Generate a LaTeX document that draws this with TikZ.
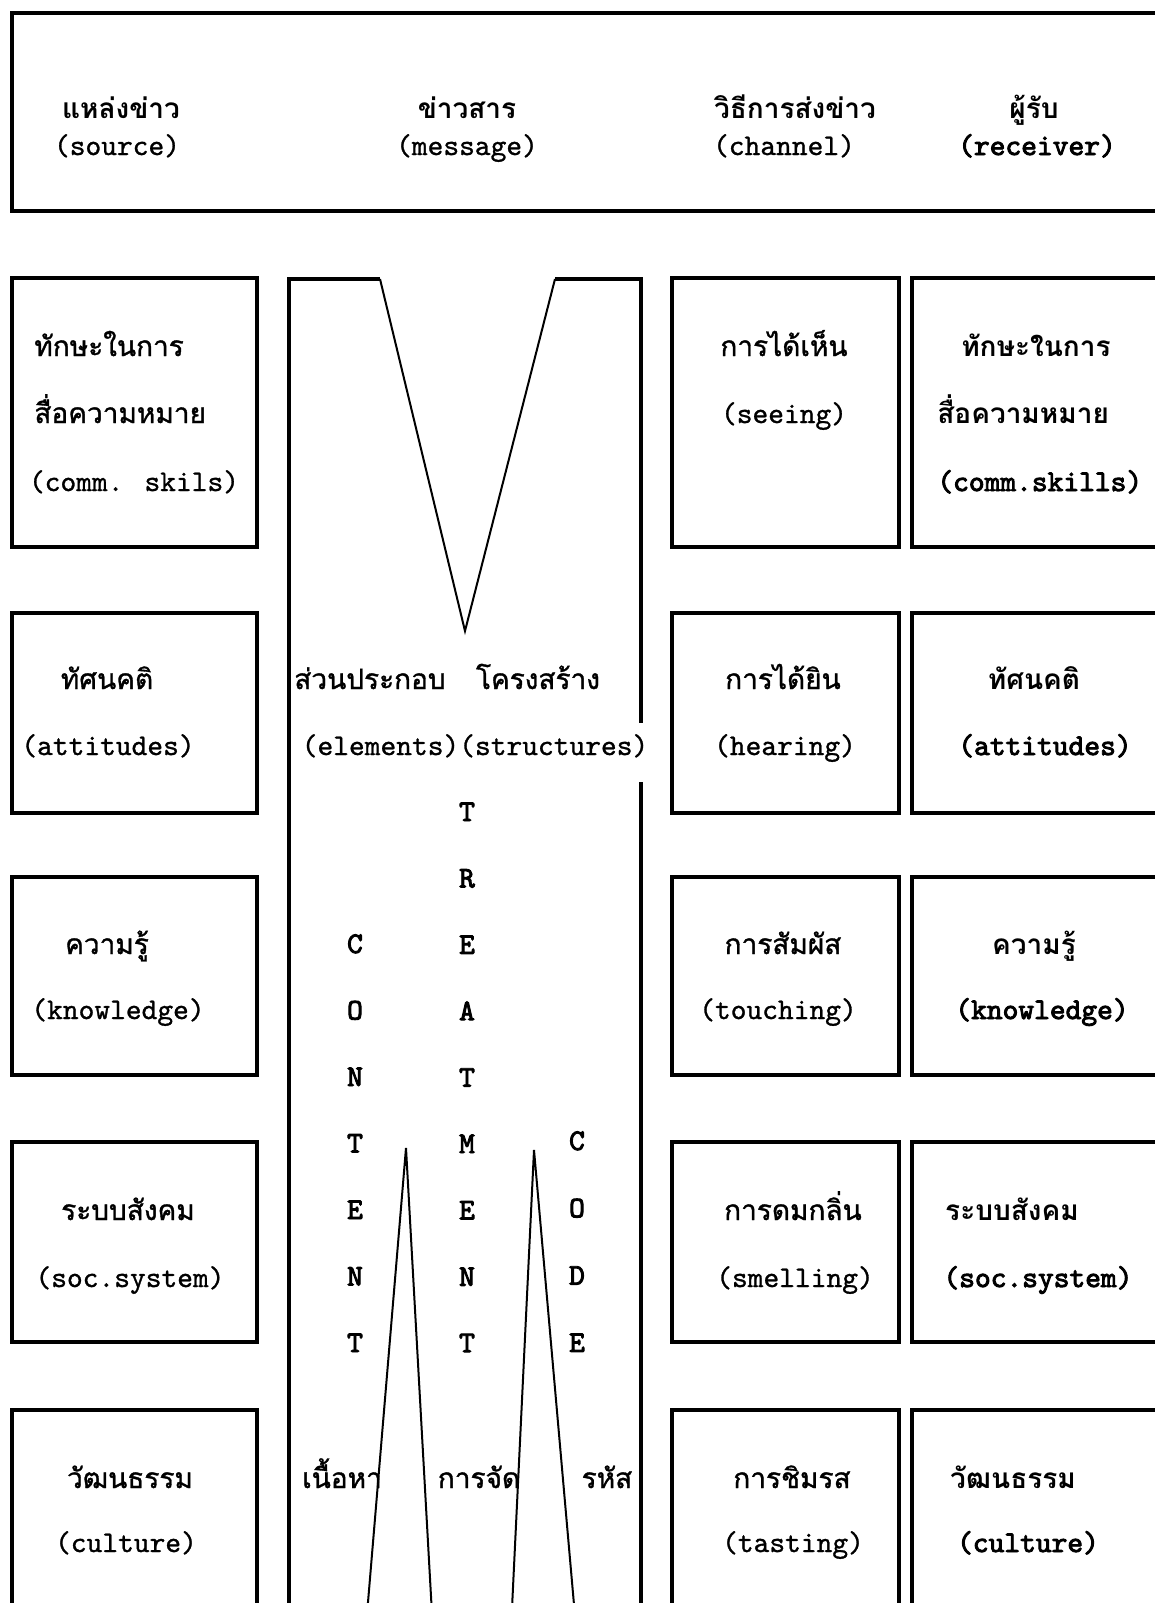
\documentclass[tikz,border=0pt]{standalone}
\usepackage{fontspec}
\newfontfamily\thai[Script=Thai,FakeBold=1.2]{Loma}
\newfontfamily\thaib[Script=Thai]{Loma Bold}
\newfontfamily\eng[FakeBold=1.0]{lmmono10-regular.otf}
\newfontfamily\engb[FakeBold=3.0]{lmmono10-regular.otf}
\begin{document}
\begin{tikzpicture}[x=0.5pt,y=-0.5pt,
  box/.style={line width=1.7pt},
  vline/.style={line width=1pt},
  th/.style={font=\thai\fontsize{14}{16}\selectfont, anchor=base, yshift=-3.5pt, inner sep=0pt},
  thb/.style={font=\thaib\fontsize{14}{16}\selectfont, anchor=base, yshift=-3.5pt, inner sep=0pt},
  en/.style={font=\eng\fontsize{15}{17}\selectfont, anchor=base, yshift=-3.5pt, inner sep=0pt},
  enb/.style={font=\engb\fontsize{15}{17}\selectfont, anchor=base, yshift=-3.5pt, inner sep=0pt},
  let/.style={font=\engb\fontsize{15}{17}\selectfont, anchor=base, yshift=-3.5pt, inner sep=0pt}]
\useasboundingbox (0,0) rectangle (1155,1603);
\fill[white] (0,0) rectangle (1155,1603);
\clip (0,0) rectangle (1155,1603);

% header box
\draw[box] (12,13) rectangle (1200,211);
\node[thb] (h1t) at (121,111) {แหล่งข่าว};
\node[en]  (h1e) at (117,148) {(source)};
\node[thb] (h2t) at (467,111) {ข่าวสาร};
\node[en]  (h2e) at (467,148) {(message)};
\node[thb] (h3t) at (795,111) {วิธีการส่งข่าว};
\node[en]  (h3e) at (784,148) {(channel)};
\node[thb] (h4t) at (1034,111) {ผู้รับ};
\node[enb] (h4e) at (1037,148) {(receiver)};

% column 1 boxes
\draw[box] (12,278) rectangle (257,547);
\draw[box] (12,613) rectangle (257,813);
\draw[box] (12,877) rectangle (257,1075);
\draw[box] (12,1142) rectangle (257,1342);
\draw[box] (12,1410) rectangle (257,1700);

\node[th,anchor=base west] (a1t) at (34,349) {ทักษะในการ};
\node[th,anchor=base west] (a1u) at (34,416) {สื่อความหมาย};
\node[en] (a1e) at (134,484) {(comm. skils)};
\node[th] (a2t) at (107,682) {ทัศนคติ};
\node[en] (a2e) at (108,748) {(attitudes)};
\node[th] (a3t) at (107,947) {ความรู้};
\node[en] (a3e) at (118,1012) {(knowledge)};
\node[th] (a4t) at (128,1213) {ระบบสังคม};
\node[en] (a4e) at (130,1280) {(soc.system)};
\node[th] (a5t) at (130,1481) {วัฒนธรรม};
\node[en] (a5e) at (126,1545) {(culture)};

% middle box
\draw[box] (380,279) -- (289,279) -- (289,1700);
\draw[vline] (380,279) -- (465,631) -- (555,279);
\draw[box] (555,279) -- (641,279) -- (641,723);
\draw[box] (641,782) -- (641,1700);
\draw[vline] (364,1650) -- (406,1148) -- (434,1650);
\draw[vline] (510,1650) -- (534,1150) -- (578,1650);

\node[th] (m1t) at (370,682) {ส่วนประกอบ};
\node[th] (m2t) at (538,682) {โครงสร้าง};
\node[en] (m1e) at (475,748) {(elements)(structures)};

\foreach \ch [count=\i] in {T,R,E,A,T,M,E,N,T}
  \node[let] (tr\i) at (467,{814+66.4*(\i-1)}) {\ch};
\foreach \ch [count=\i] in {C,O,N,T,E,N,T}
  \node[let] (co\i) at (355,{946+66.5*(\i-1)}) {\ch};
\foreach \ch [count=\i] in {C,O,D,E}
  \node[let] (cd\i) at (577,{1143+67.3*(\i-1)}) {\ch};

\node[th] (b1t) at (342,1481) {เนื้อหา};
\node[th] (b2t) at (479,1481) {การจัด};
\node[th] (b3t) at (607,1481) {รหัส};

% column 3 boxes
\draw[box] (672,278) rectangle (899,547);
\draw[box] (672,613) rectangle (899,813);
\draw[box] (672,877) rectangle (899,1075);
\draw[box] (672,1142) rectangle (899,1342);
\draw[box] (672,1410) rectangle (899,1700);

\node[th] (c1t) at (784,349) {การได้เห็น};
\node[en] (c1e) at (784,416) {(seeing)};
\node[th] (c2t) at (783,682) {การได้ยิน};
\node[en] (c2e) at (785,748) {(hearing)};
\node[th] (c3t) at (783,947) {การสัมผัส};
\node[en] (c3e) at (778,1012) {(touching)};
\node[th] (c4t) at (793,1213) {การดมกลิ่น};
\node[en] (c4e) at (795,1280) {(smelling)};
\node[th] (c5t) at (792,1481) {การชิมรส};
\node[en] (c5e) at (793,1545) {(tasting)};

% column 4 boxes
\draw[box] (912,278) rectangle (1200,547);
\draw[box] (912,613) rectangle (1200,813);
\draw[box] (912,877) rectangle (1200,1075);
\draw[box] (912,1142) rectangle (1200,1342);
\draw[box] (912,1410) rectangle (1200,1700);

\node[thb] (d1t) at (1036,349) {ทักษะในการ};
\node[thb,anchor=base west] (d1u) at (937,416) {สื่อความหมาย};
\node[enb,anchor=base west] (d1e) at (937,484) {(comm.skills)};
\node[thb] (d2t) at (1034,682) {ทัศนคติ};
\node[enb] (d2e) at (1045,748) {(attitudes)};
\node[thb] (d3t) at (1034,947) {ความรู้};
\node[enb] (d3e) at (1042,1012) {(knowledge)};
\node[thb] (d4t) at (1012,1213) {ระบบสังคม};
\node[enb] (d4e) at (1038,1280) {(soc.system)};
\node[thb] (d5t) at (1013,1481) {วัฒนธรรม};
\node[enb] (d5e) at (1028,1545) {(culture)};
\end{tikzpicture}
\end{document}
